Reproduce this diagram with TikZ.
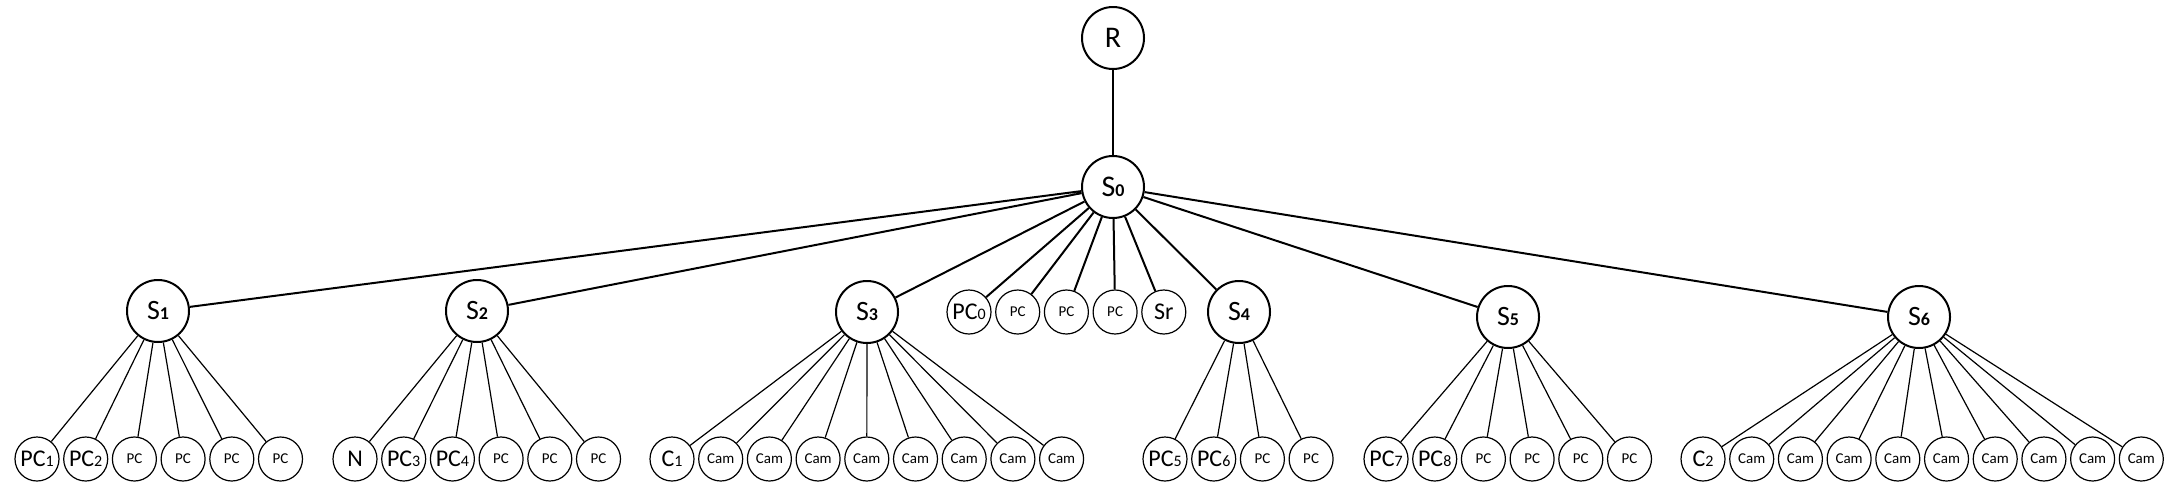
\documentclass[tikz,border=0pt]{standalone}
\usepackage{fontspec}
\setmainfont{Carlito}
\usetikzlibrary{positioning}

\newcommand{\ssub}[1]{{\fontsize{9}{9}\selectfont\bfseries #1}}
\newcommand{\psub}[1]{{\fontsize{8}{8}\selectfont #1}}

\begin{document}
\begin{tikzpicture}[x=0.5pt, y=-0.5pt,
    switch/.style={circle, draw, line width=1pt, minimum size=31pt, inner sep=0pt, font=\fontsize{14}{14}\selectfont},
    host/.style={circle, draw, line width=0.6pt, minimum size=22pt, inner sep=0pt, font=\fontsize{12}{12}\selectfont},
    minor/.style={host, font=\fontsize{7.5}{7.5}\selectfont},
    uplink/.style={line width=1pt},
    link/.style={line width=0.6pt}]
    \useasboundingbox (0,0) rectangle (2171,493);

    % Root and core switch
    \node[switch, font=\fontsize{15}{15}\selectfont] (r) at (1113,38) {R};
    \node[switch, font=\fontsize{15}{15}\selectfont] (s0) at (1113,187) {S\ssub{0}};

    % Access switches
    \node[switch] (s1) at (158,311) {S\ssub{1}};
    \node[switch] (s2) at (477,311) {S\ssub{2}};
    \node[switch] (s3) at (867,312) {S\ssub{3}};
    \node[switch] (s4) at (1239,312) {S\ssub{4}};
    \node[switch] (s5) at (1508,317) {S\ssub{5}};
    \node[switch] (s6) at (1919,317) {S\ssub{6}};

    % Hosts on S0
    \node[host] (pc0) at (969,312) {PC\psub{0}};
    \node[minor, right=1.75pt of pc0] (s0pca) {PC};
    \node[minor, right=1.75pt of s0pca] (s0pcb) {PC};
    \node[minor, right=1.75pt of s0pcb] (s0pcc) {PC};
    \node[host, right=1.75pt of s0pcc] (sr) {Sr};

    % Hosts on S1
    \node[host] (pc1) at (37,459) {PC\psub{1}};
    \node[host, right=1.75pt of pc1] (pc2) {PC\psub{2}};
    \node[minor, right=1.75pt of pc2] (s1pca) {PC};
    \node[minor, right=1.75pt of s1pca] (s1pcb) {PC};
    \node[minor, right=1.75pt of s1pcb] (s1pcc) {PC};
    \node[minor, right=1.75pt of s1pcc] (s1pcd) {PC};

    % Hosts on S2
    \node[host] (n) at (355,459) {N};
    \node[host, right=1.75pt of n] (pc3) {PC\psub{3}};
    \node[host, right=1.75pt of pc3] (pc4) {PC\psub{4}};
    \node[minor, right=1.75pt of pc4] (s2pca) {PC};
    \node[minor, right=1.75pt of s2pca] (s2pcb) {PC};
    \node[minor, right=1.75pt of s2pcb] (s2pcc) {PC};

    % Cameras on S3
    \node[host] (c1) at (672,459) {C\psub{1}};
    \node[minor, right=1.75pt of c1] (s3cama) {Cam};
    \node[minor, right=1.75pt of s3cama] (s3camb) {Cam};
    \node[minor, right=1.75pt of s3camb] (s3camc) {Cam};
    \node[minor, right=1.75pt of s3camc] (s3camd) {Cam};
    \node[minor, right=1.75pt of s3camd] (s3came) {Cam};
    \node[minor, right=1.75pt of s3came] (s3camf) {Cam};
    \node[minor, right=1.75pt of s3camf] (s3camg) {Cam};
    \node[minor, right=1.75pt of s3camg] (s3camh) {Cam};

    % Hosts on S4
    \node[host] (pc5) at (1165,459) {PC\psub{5}};
    \node[host, right=1.75pt of pc5] (pc6) {PC\psub{6}};
    \node[minor, right=1.75pt of pc6] (s4pca) {PC};
    \node[minor, right=1.75pt of s4pca] (s4pcb) {PC};

    % Hosts on S5
    \node[host] (pc7) at (1386,459) {PC\psub{7}};
    \node[host, right=1.75pt of pc7] (pc8) {PC\psub{8}};
    \node[minor, right=1.75pt of pc8] (s5pca) {PC};
    \node[minor, right=1.75pt of s5pca] (s5pcb) {PC};
    \node[minor, right=1.75pt of s5pcb] (s5pcc) {PC};
    \node[minor, right=1.75pt of s5pcc] (s5pcd) {PC};

    % Cameras on S6
    \node[host] (c2) at (1703,459) {C\psub{2}};
    \node[minor, right=1.75pt of c2] (s6cama) {Cam};
    \node[minor, right=1.75pt of s6cama] (s6camb) {Cam};
    \node[minor, right=1.75pt of s6camb] (s6camc) {Cam};
    \node[minor, right=1.75pt of s6camc] (s6camd) {Cam};
    \node[minor, right=1.75pt of s6camd] (s6came) {Cam};
    \node[minor, right=1.75pt of s6came] (s6camf) {Cam};
    \node[minor, right=1.75pt of s6camf] (s6camg) {Cam};
    \node[minor, right=1.75pt of s6camg] (s6camh) {Cam};
    \node[minor, right=1.75pt of s6camh] (s6cami) {Cam};

    % Links
    \draw[uplink] (r) -- (s0);
    \draw[uplink] (s0) -- (s1) (s0) -- (s2) (s0) -- (s3) (s0) -- (s4) (s0) -- (s5) (s0) -- (s6);
    \draw[uplink] (s0) -- (pc0) (s0) -- (s0pca) (s0) -- (s0pcb) (s0) -- (s0pcc) (s0) -- (sr);
    \draw[link] (s1) -- (pc1) (s1) -- (pc2) (s1) -- (s1pca) (s1) -- (s1pcb) (s1) -- (s1pcc) (s1) -- (s1pcd);
    \draw[link] (s2) -- (n) (s2) -- (pc3) (s2) -- (pc4) (s2) -- (s2pca) (s2) -- (s2pcb) (s2) -- (s2pcc);
    \draw[link] (s3) -- (c1) (s3) -- (s3cama) (s3) -- (s3camb) (s3) -- (s3camc) (s3) -- (s3camd)
        (s3) -- (s3came) (s3) -- (s3camf) (s3) -- (s3camg) (s3) -- (s3camh);
    \draw[link] (s4) -- (pc5) (s4) -- (pc6) (s4) -- (s4pca) (s4) -- (s4pcb);
    \draw[link] (s5) -- (pc7) (s5) -- (pc8) (s5) -- (s5pca) (s5) -- (s5pcb) (s5) -- (s5pcc) (s5) -- (s5pcd);
    \draw[link] (s6) -- (c2) (s6) -- (s6cama) (s6) -- (s6camb) (s6) -- (s6camc) (s6) -- (s6camd)
        (s6) -- (s6came) (s6) -- (s6camf) (s6) -- (s6camg) (s6) -- (s6camh) (s6) -- (s6cami);
\end{tikzpicture}
\end{document}
